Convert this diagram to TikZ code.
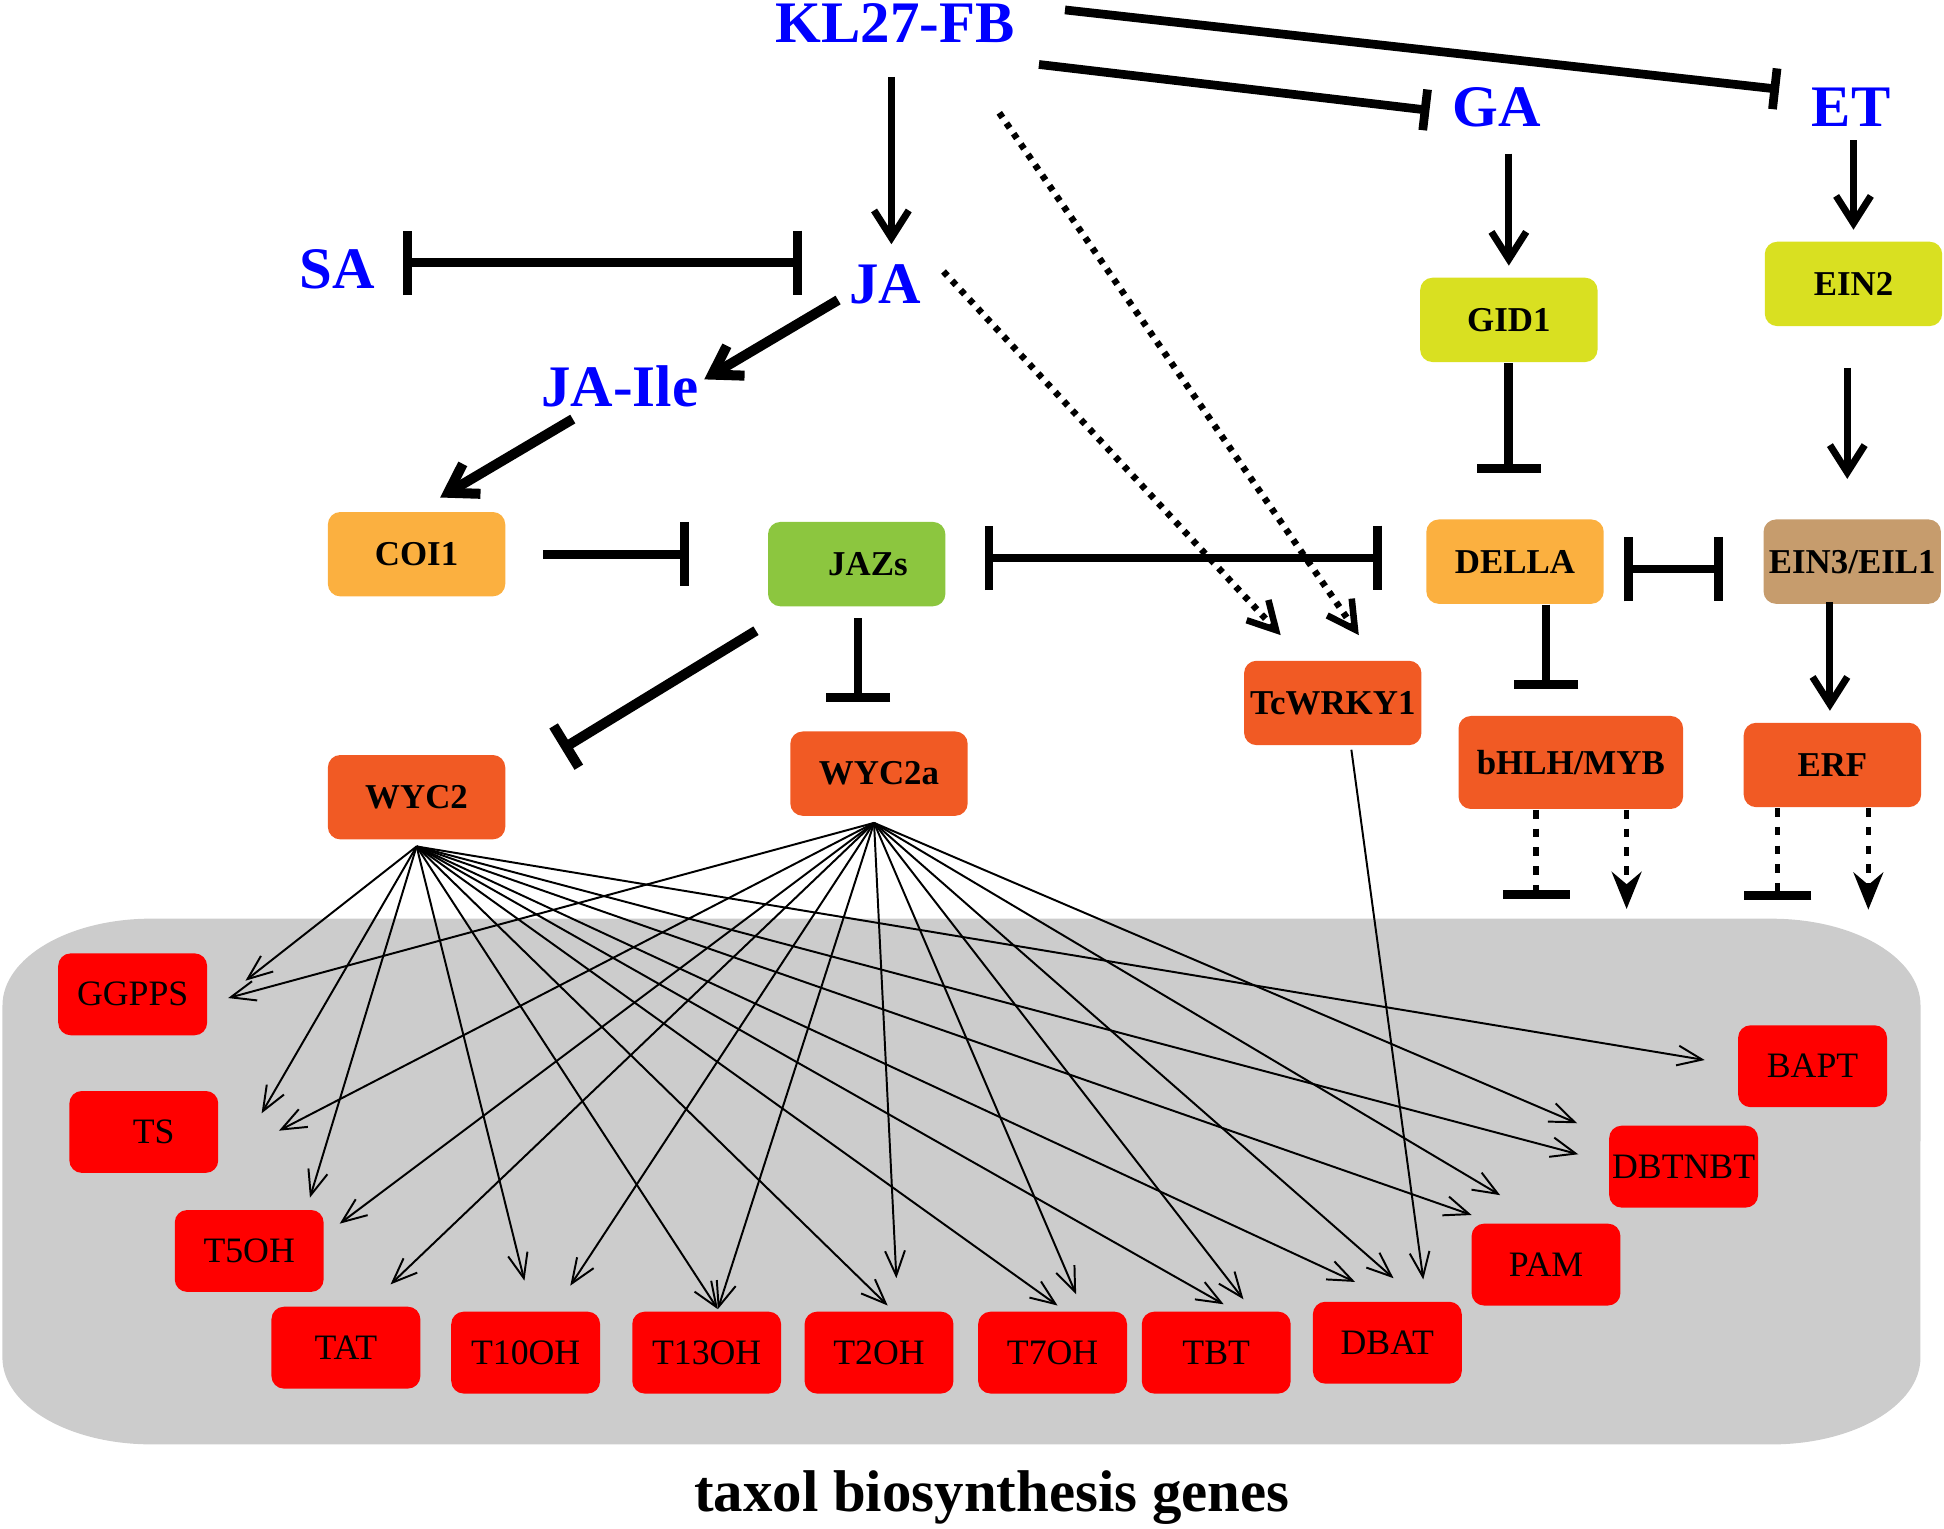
\documentclass[tikz,border=0pt]{standalone}
\usepackage{fontspec}
\setmainfont{Liberation Serif}
\usetikzlibrary{arrows.meta,calc}
\definecolor{coiorange}{HTML}{FBB040}
\definecolor{jazgreen}{HTML}{8CC63F}
\definecolor{gidyellow}{HTML}{D9E021}
\definecolor{eintan}{HTML}{C69C6D}
\definecolor{tfred}{HTML}{F15A24}
\definecolor{bggray}{HTML}{CCCCCC}
\tikzset{
  hormone/.style={text=blue, font=\bfseries\fontsize{13.5}{15}\selectfont, inner sep=0pt, anchor=base},
  factor/.style={rounded corners=0.1cm, minimum width=1.43cm, minimum height=0.68cm, inner sep=0pt, font=\bfseries\fontsize{8}{9}\selectfont},
  gene/.style={fill=red, rounded corners=0.1cm, minimum width=1.2cm, minimum height=0.66cm, inner sep=0pt, font=\fontsize{8.2}{9}\selectfont},
  act/.style={-{Straight Barb[length=0.22cm,width=0.28cm]}, line width=1.6pt},
  inh/.style={-{Bar[width=0.52cm]}, line width=2pt},
  inhboth/.style={{Bar[width=0.52cm]}-{Bar[width=0.52cm]}, line width=2pt},
  dotted line/.style={line width=1.5pt, dash pattern=on 1.3pt off 1.6pt, -{Straight Barb[length=0.22cm,width=0.24cm]}},
  dashes/.style={line width=1.2pt, dash pattern=on 2pt off 2.3pt},
  fan/.style={line width=0.45pt, -{Straight Barb[length=0.2cm,width=0.16cm]}}
}
\begin{document}
\begin{tikzpicture}[x=0.01cm, y=-0.01cm]
\useasboundingbox (0,0) rectangle (1568,1233);
\fill[bggray] (122,741) -- (1429,741) arc[start angle=90, end angle=0, x radius=1.2cm, y radius=0.7cm]
  -- (1549,1095) arc[start angle=0, end angle=-90, x radius=1.2cm, y radius=0.7cm]
  -- (122,1165) arc[start angle=-90, end angle=-180, x radius=1.2cm, y radius=0.7cm]
  -- (2,811) arc[start angle=180, end angle=90, x radius=1.2cm, y radius=0.7cm] -- cycle;

\node[hormone] (kl) at (722,34) {KL27-FB};
\node[hormone] (ga) at (1207,102) {GA};
\node[hormone] (et) at (1493,102) {ET};
\node[hormone] (sa) at (272,233) {SA};
\node[hormone] (ja) at (714,245) {JA};
\node[hormone] (jaile) at (500,328) {JA-Ile};

\node[factor, fill=coiorange] (coi1) at (336,447) {COI1\hspace{0.16cm}};
\node[factor, fill=jazgreen] (jazs) at (691,455) {\hspace{0.18cm}JAZs};
\node[factor, fill=gidyellow] (gid1) at (1217,258) {GID1};
\node[factor, fill=gidyellow] (ein2) at (1495,229) {EIN2};
\node[factor, fill=coiorange] (della) at (1222,453) {DELLA};
\node[factor, fill=eintan] (ein3) at (1494,453) {EIN3/EIL1};
\node[factor, fill=tfred] (tcwrky) at (1075,567) {TcWRKY1};
\node[factor, fill=tfred, minimum width=1.81cm, minimum height=0.75cm] (bhlh) at (1267,615) {bHLH/MYB};
\node[factor, fill=tfred] (erf) at (1478,617) {ERF\hspace{0.24cm}};
\node[factor, fill=tfred] (wyc2) at (336,643) {WYC2};
\node[factor, fill=tfred] (wyc2a) at (709,624) {WYC2a};

\node[gene] (ggpps) at (107,802) {GGPPS\hspace{0.14cm}};
\node[gene] (ts) at (116,913) {\hspace{0.16cm}TS};
\node[gene] (t5oh) at (201,1009) {T5OH};
\node[gene] (tat) at (279,1087) {TAT};
\node[gene] (t10oh) at (424,1091) {T10OH};
\node[gene] (t13oh) at (570,1091) {T13OH};
\node[gene] (t2oh) at (709,1091) {T2OH};
\node[gene] (t7oh) at (849,1091) {T7OH};
\node[gene] (tbt) at (981,1091) {TBT};
\node[gene] (dbat) at (1119,1083) {DBAT};
\node[gene] (pam) at (1247,1020) {PAM};
\node[gene] (dbtnbt) at (1358,941) {DBTNBT};
\node[gene] (bapt) at (1462,860) {BAPT};

\node[font=\bfseries\fontsize{13.5}{15}\selectfont, inner sep=0pt, anchor=base] (title) at (800,1219) {taxol biosynthesis genes};

\draw[act] ($(kl.base)+(-3,28)$) -- ($(ja.base)+(5,-48)$);
\draw[inh, -{Bar[width=0.33cm]}] ($(kl.base)+(116,18)$) -- ($(ga.base)+(-54,-13)$);
\draw[inh, -{Bar[width=0.33cm]}] ($(kl.base)+(137,-26)$) -- ($(et.base)+(-58,-30)$);
\draw[dotted line] ($(kl.base)+(84,57)$) -- ($(tcwrky.north)+(21,-20)$);
\draw[dotted line] ($(ja.base)+(47,-26)$) -- ($(tcwrky.north)+(-42,-20)$);
\draw[inhboth] ($(sa.base)+(53,-21)$) -- ($(ja.base)+(-67,-33)$);
\draw[act, line width=2.3pt] ($(ja.base)+(-38,-3)$) -- ($(jaile.base)+(68,-22)$);
\draw[act, line width=2.3pt] ($(jaile.base)+(-38,10)$) -- ($(coi1.north)+(19,-11)$);

\draw[inh] ($(coi1.east)+(30,0)$) -- ($(jazs.west)+(-63,-8)$);
\draw[inhboth] ($(jazs.east)+(31,-5)$) -- ($(della.west)+(-35,-3)$);
\draw[inhboth] ($(della.east)+(16,6)$) -- ($(ein3.west)+(-32,6)$);
\draw[act] ($(ga.base)+(10,22)$) -- ($(gid1.north)+(0,-9)$);
\draw[act] ($(et.base)+(2,11)$) -- ($(ein2.north)+(0,-9)$);
\draw[inh] (gid1.south) -- ($(della.north)+(-5,-37)$);
\draw[act] ($(ein2.south)+(-5,33)$) -- ($(ein3.north)+(-4,-32)$);
\draw[inh] ($(della.south)+(25,0)$) -- ($(bhlh.north)+(-20,-21)$);
\draw[act] ($(ein3.south)+(-18,-2)$) -- ($(erf.north)+(-2,-9)$);
\draw[inh] ($(jazs.south)+(1,9)$) -- ($(wyc2a.north)+(-17,-23)$);
\draw[inh, line width=2.3pt, -{Bar[width=0.39cm]}] ($(jazs.south west)+(-9,19)$) -- ($(wyc2.north east)+(45,-4)$);

\draw[dashes, -{Bar[width=0.54cm, line width=2pt]}] ($(bhlh.south)+(-28,0)$) -- ($(bhlh.south)+(-28,72)$);
\draw[dashes, -{Stealth[length=0.3cm, width=0.24cm, inset=0.1cm]}] ($(bhlh.south)+(45,0)$) -- ($(bhlh.south)+(45,80)$);
\draw[dashes, -{Bar[width=0.54cm, line width=2pt]}] ($(erf.south)+(-44,0)$) -- ($(erf.south)+(-44,74)$);
\draw[dashes, -{Stealth[length=0.3cm, width=0.24cm, inset=0.1cm]}] ($(erf.south)+(29,0)$) -- ($(erf.south)+(29,82)$);

\draw[fan] ($(tcwrky.south)+(15,3)$) -- ($(dbat)+(29,-51)$);
\foreach \g/\dx/\dy in {ggpps/91/-11, ts/95/-15, t5oh/49/-43, t10oh/-1/-58, t13oh/9/-35, t2oh/7/-38,
    t7oh/4/-38, tbt/6/-39, dbat/-26/-49, pam/-60/-40, dbtnbt/-85/-10, bapt/-87/-5}
  \draw[fan] ($(wyc2.south)+(0,5)$) -- ($(\g)+(\dx,\dy)$);
\foreach \g/\dx/\dy in {ggpps/77/3, ts/109/-1, t5oh/73/-22, tat/36/-51, t10oh/36/-54, t13oh/9/-35,
    t2oh/14/-60, t7oh/19/-47, tbt/22/-43, dbat/5/-52, pam/-37/-56, dbtnbt/-86/-35}
  \draw[fan] ($(wyc2a.south)+(-4,5)$) -- ($(\g)+(\dx,\dy)$);
\end{tikzpicture}
\end{document}
